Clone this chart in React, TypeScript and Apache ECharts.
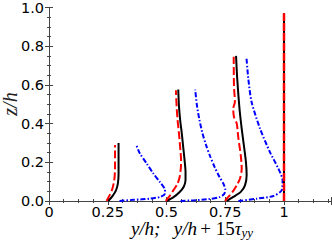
import React, { useEffect, useRef } from "react";
import * as echarts from "echarts";

// tick values
const xTicks = [0, 0.25, 0.5, 0.75, 1];
const yTicks = [0, 0.2, 0.4, 0.6, 0.8, 1.0];

// profiles: [y/h, z/h]
const black1 = [[0.252, 0], [0.27, 0.025], [0.285, 0.055], [0.293, 0.09], [0.296, 0.14], [0.296, 0.2], [0.296, 0.3]];
const red1 = [[0.245, 0], [0.258, 0.03], [0.27, 0.065], [0.278, 0.11], [0.281, 0.17], [0.281, 0.23], [0.281, 0.29]];
const blue1 = [[0.30, 0], [0.36, 0.006], [0.43, 0.012], [0.475, 0.022], [0.494, 0.04], [0.492, 0.064], [0.472, 0.098], [0.444, 0.142], [0.416, 0.193], [0.387, 0.245], [0.373, 0.285]];

const black2 = [[0.50, 0], [0.53, 0.02], [0.555, 0.045], [0.574, 0.075], [0.581, 0.11], [0.581, 0.15], [0.577, 0.21], [0.571, 0.28], [0.565, 0.35], [0.558, 0.42], [0.553, 0.49], [0.550, 0.576]];
const red2 = [[0.497, 0], [0.513, 0.025], [0.529, 0.055], [0.547, 0.09], [0.556, 0.124], [0.561, 0.17], [0.562, 0.21], [0.558, 0.28], [0.553, 0.35], [0.547, 0.42], [0.543, 0.49], [0.540, 0.572]];
const blue2 = [[0.56, 0], [0.62, 0.004], [0.68, 0.01], [0.725, 0.02], [0.745, 0.035], [0.750, 0.06], [0.742, 0.09], [0.725, 0.125], [0.705, 0.175], [0.686, 0.23], [0.668, 0.29], [0.653, 0.35], [0.640, 0.42], [0.630, 0.49], [0.622, 0.576]];

const black3 = [[0.756, 0], [0.784, 0.021], [0.816, 0.047], [0.834, 0.081], [0.841, 0.133], [0.838, 0.202], [0.829, 0.29], [0.82, 0.374], [0.812, 0.46], [0.806, 0.546], [0.800, 0.65], [0.796, 0.75]];
const red3 = [[0.749, 0], [0.763, 0.021], [0.781, 0.047], [0.799, 0.081], [0.813, 0.116], [0.820, 0.167], [0.816, 0.236], [0.806, 0.323], [0.799, 0.4], [0.787, 0.434], [0.784, 0.478], [0.791, 0.512], [0.787, 0.598], [0.786, 0.745]];
const blue3 = [[0.806, 0], [0.884, 0.012], [0.955, 0.026], [0.990, 0.055], [0.994, 0.107], [0.976, 0.167], [0.940, 0.253], [0.898, 0.374], [0.862, 0.512], [0.848, 0.633], [0.840, 0.745]];

const black4 = [[1, 0], [1, 0.97]];
const red4 = [[1, 0], [1, 0.97]];

export default function App() {
  const ref = useRef<HTMLDivElement>(null);
  useEffect(() => {
    if (!ref.current) return;
    const chart = echarts.init(ref.current, null, { renderer: "svg" });
    const frame = "#444";
    const line = (data: number[][], color: string, width: number, type: any, z: number) => ({
      type: "line",
      data,
      showSymbol: false,
      smooth: 0.25,
      z,
      lineStyle: { color, width, type },
      xAxisIndex: 0,
      yAxisIndex: 0,
    });
    const xBase = {
      type: "value",
      min: 0,
      max: 1.2,
      interval: 0.25,
      axisLine: { show: true, lineStyle: { color: frame, width: 1 } },
      axisTick: { show: true, inside: true, length: 4, lineStyle: { color: frame } },
      minorTick: { show: true, splitNumber: 4, length: 2, lineStyle: { color: frame } },
      splitLine: { show: false },
    };
    const yBase = {
      type: "value",
      min: 0,
      max: 1,
      interval: 0.2,
      axisLine: { show: true, lineStyle: { color: frame, width: 1 } },
      axisTick: { show: true, inside: true, length: 4, lineStyle: { color: frame } },
      minorTick: { show: true, splitNumber: 4, length: 2, lineStyle: { color: frame } },
      splitLine: { show: false },
    };
    chart.setOption({
      animation: false,
      grid: { left: 49, right: 1, top: 7, bottom: 40 },
      xAxis: [
        {
          ...xBase,
          position: "bottom",
          axisLabel: {
            show: true,
            color: "#000",
            fontSize: 14.5,
            fontFamily: "DejaVu Sans",
            margin: 3,
            showMaxLabel: false,
            formatter: (v: number) => (xTicks.includes(v) ? String(v) : ""),
          },
        },
        { ...xBase, position: "top", axisLabel: { show: false } },
      ],
      yAxis: [
        {
          ...yBase,
          position: "left",
          axisLabel: {
            show: true,
            color: "#000",
            fontSize: 14.5,
            fontFamily: "DejaVu Sans",
            margin: 5,
            formatter: (v: number) => (yTicks.some((t) => Math.abs(t - v) < 1e-9) ? v.toFixed(1) : ""),
          },
        },
        { ...yBase, position: "right", axisLabel: { show: false } },
      ],
      graphic: [
        {
          type: "text",
          x: 192,
          y: 228,
          style: {
            text: "{i|y/h;}    {i|y/h} {n|+ 15}{i|τ}{s|yy}",
            align: "center",
            verticalAlign: "middle",
            rich: {
              i: { fontFamily: "Liberation Serif", fontStyle: "italic", fontSize: 19, fill: "#000" },
              n: { fontFamily: "Liberation Serif", fontSize: 19, fill: "#000" },
              s: { fontFamily: "Liberation Serif", fontStyle: "italic", fontSize: 13, fill: "#000", verticalAlign: "bottom", padding: [9, 0, 0, 0] },
            },
          },
        },
        {
          type: "text",
          x: 10,
          y: 104,
          rotation: Math.PI / 2,
          style: {
            text: "z/h",
            align: "center",
            verticalAlign: "middle",
            fontFamily: "Liberation Serif",
            fontStyle: "italic",
            fontSize: 20,
            fill: "#222",
          },
        },
      ],
      series: [
        line(blue1, "#0000ff", 2, [5, 2, 1.5, 2], 2),
        line(black1, "#000000", 2, "solid", 3),
        line(red1, "#ff0000", 2, [8, 3], 4),
        line(blue2, "#0000ff", 2, [5, 2, 1.5, 2], 2),
        line(black2, "#000000", 2, "solid", 3),
        line(red2, "#ff0000", 2, [8, 3], 4),
        line(blue3, "#0000ff", 2, [5, 2, 1.5, 2], 2),
        line(black3, "#000000", 2, "solid", 3),
        line(red3, "#ff0000", 2, [8, 3], 4),
        line(black4, "#000000", 2, "solid", 3),
        line(red4, "#ff0000", 2.5, [8, 2], 4),
      ],
    });
    return () => chart.dispose();
  }, []);
  return <div ref={ref} style={{ position: "absolute", left: 0, top: 0, width: 332, height: 241 }} />;
}
